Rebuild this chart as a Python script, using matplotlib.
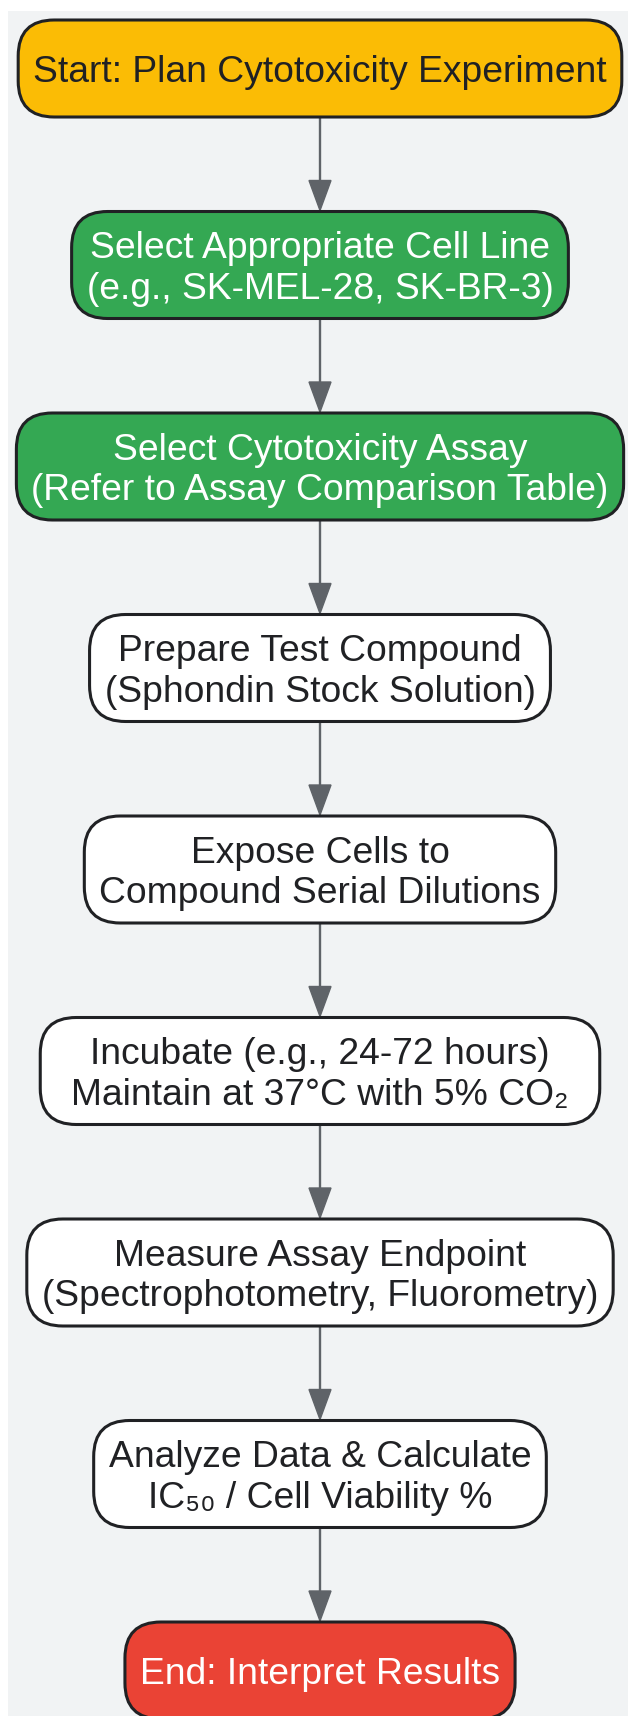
import matplotlib
matplotlib.use("Agg")
import matplotlib.pyplot as plt
from matplotlib.patches import FancyBboxPatch, Rectangle

# flowchart steps
labels = [
    "Start: Plan Cytotoxicity Experiment",
    "Select Appropriate Cell Line\n(e.g., SK-MEL-28, SK-BR-3)",
    "Select Cytotoxicity Assay\n(Refer to Assay Comparison Table)",
    "Prepare Test Compound\n(Sphondin Stock Solution)",
    "Expose Cells to\nCompound Serial Dilutions",
    "Incubate (e.g., 24-72 hours)\nMaintain at 37°C with 5% CO₂",
    "Measure Assay Endpoint\n(Spectrophotometry, Fluorometry)",
    "Analyze Data & Calculate\nIC₅₀ / Cell Viability %",
    "End: Interpret Results",
]
fills = ["#FBBC05", "#34A853", "#34A853", "#FFFFFF", "#FFFFFF",
         "#FFFFFF", "#FFFFFF", "#FFFFFF", "#EA4335"]
text_colors = ["#202124", "#FFFFFF", "#FFFFFF", "#202124", "#202124",
               "#202124", "#202124", "#202124", "#FFFFFF"]

W, H = 628, 1716
fig = plt.figure(figsize=(W / 100, H / 100), dpi=100)
ax = fig.add_axes([0, 0, 1, 1])
ax.set_xlim(0, W)
ax.set_ylim(H, 0)
ax.axis("off")
fig.patch.set_facecolor("white")

# light gray canvas
ax.add_patch(Rectangle((8, 11), W, H, facecolor="#F1F3F4", edgecolor="none", zorder=0))

cx = 320
pad = 15
gap = 94.5
edge = "#202124"
arrow_col = "#5F6368"
fsize = 26.8

renderer = fig.canvas.get_renderer()
y = 20
bottoms, tops = [], []
for lab, fc, tc in zip(labels, fills, text_colors):
    h = 107 if "\n" in lab else 97
    t = ax.text(cx, y + h / 2 + 4, lab, ha="center", va="center", color=tc,
                fontsize=fsize, family=["Liberation Sans", "DejaVu Sans"],
                linespacing=1.22, zorder=3)
    bb = t.get_window_extent(renderer)
    w = bb.width + 2 * pad
    if "CO₂" in lab:
        w += 32  # graphviz sized this node wider than its text
    box = FancyBboxPatch((cx - w / 2, y), w, h,
                         boxstyle="round,pad=0,rounding_size=36",
                         facecolor=fc, edgecolor=edge, linewidth=2.2, zorder=2)
    ax.add_patch(box)
    tops.append(y)
    bottoms.append(y + h)
    y += h + gap

# arrows between consecutive steps
head_len, head_w = 31, 22
for b, t in zip(bottoms[:-1], tops[1:]):
    ax.plot([cx, cx], [b, t - head_len + 2], color=arrow_col, lw=1.7, zorder=1,
            solid_capstyle="butt")
    ax.fill([cx - head_w / 2, cx + head_w / 2, cx], [t - head_len, t - head_len, t - 1],
            color=arrow_col, zorder=1)

fig.savefig("out.png", dpi=100)
